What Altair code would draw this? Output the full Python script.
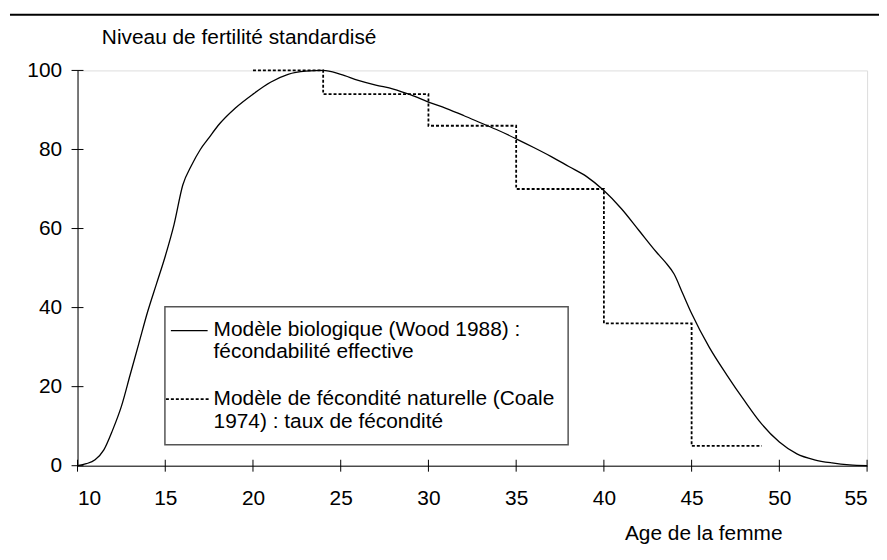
import altair as alt
import pandas as pd

# Wood 1988 biological model (effective fecundability)
wood_age = [10, 10.5, 11, 11.5, 12, 12.5, 13, 13.5, 14, 14.5, 15, 15.5, 16, 16.5, 17, 17.5, 18, 19, 20,
            21, 22, 23, 24, 25, 26, 27, 28, 29, 30, 31, 32, 33, 34, 35, 36, 37, 38, 39, 40,
            41, 42, 43, 43.5, 44, 44.5, 45, 46, 47, 48, 49, 50, 51, 52, 53, 54, 55]
wood_val = [0, 0.5, 1.5, 4, 9, 15, 23, 31, 39, 46, 53, 61, 71, 76, 80, 83, 86, 90.5, 94,
            97, 99, 99.8, 100, 99, 97.5, 96.3, 95.3, 93.8, 92, 90.4, 88.6, 86.7, 84.8, 82.7, 80.5, 78.2, 75.7, 73.2, 69.6,
            65, 59.5, 54, 51.5, 48.5, 43.5, 38.5, 30, 23, 16.5, 10.5, 6, 3, 1.5, 0.7, 0.2, 0]

# Coale 1974 natural fertility model (step function)
coale_age = [20, 24, 30, 35, 40, 45, 49]
coale_val = [100, 94, 86, 70, 36, 5, 5]

x_ticks = [10, 15, 20, 25, 30, 35, 40, 45, 50, 55]
y_ticks = [0, 20, 40, 60, 80, 100]

W, H = 795, 398
FONT = "Liberation Sans"
FS = 21

wood = pd.DataFrame({"age": wood_age, "val": wood_val})
coale = pd.DataFrame({"age": coale_age, "val": coale_val})
xt = pd.DataFrame({"age": x_ticks})
yt = pd.DataFrame({"val": y_ticks})

xscale = alt.Scale(domain=[10, 55], nice=False, zero=False)
yscale = alt.Scale(domain=[0, 100], nice=False)

xaxis = alt.Axis(values=x_ticks, ticks=False, tickSize=0, grid=False, domainColor="black",
                 domainWidth=1, labelFont=FONT, labelFontSize=FS, labelColor="black",
                 labelPadding=22, title="Age de la femme", titleFont=FONT, titleFontSize=FS,
                 titleFontWeight="normal", titleColor="black", titleX=630, titleY=74,
                 titleAlign="center", titleBaseline="alphabetic")
yaxis = alt.Axis(values=y_ticks, ticks=False, tickSize=0, grid=False, domainColor="black",
                 domainWidth=1, labelFont=FONT, labelFontSize=FS, labelColor="black",
                 labelPadding=16, title="Niveau de fertilité standardisé", titleFont=FONT,
                 titleFontSize=FS, titleFontWeight="normal", titleColor="black", titleAngle=0,
                 titleX=24, titleY=-27, titleAlign="left", titleBaseline="alphabetic")

curve = alt.Chart(wood).mark_line(color="black", strokeWidth=1.3, interpolate="monotone").encode(
    x=alt.X("age:Q", scale=xscale, axis=xaxis),
    y=alt.Y("val:Q", scale=yscale, axis=yaxis),
)

steps = alt.Chart(coale).mark_line(color="black", strokeWidth=1.8, strokeDash=[3, 2],
                                   interpolate="step-after").encode(
    x=alt.X("age:Q", scale=xscale),
    y=alt.Y("val:Q", scale=yscale),
)

xtick_marks = alt.Chart(xt).mark_rule(color="black", strokeWidth=1).encode(
    x=alt.X("age:Q", scale=xscale), y=alt.value(H - 6), y2=alt.value(H + 6))
ytick_marks = alt.Chart(yt).mark_rule(color="black", strokeWidth=1).encode(
    y=alt.Y("val:Q", scale=yscale), x=alt.value(-6), x2=alt.value(6))

one = pd.DataFrame({"a": [0]})
top_line = alt.Chart(one).mark_rule(color="black", strokeWidth=2).encode(
    x=alt.value(-68), x2=alt.value(809), y=alt.value(-56))

# Legend box (drawn by hand, as in the original)
legend_box = alt.Chart(one).mark_rect(
    fill="white", stroke="#555555", strokeWidth=1.5).encode(
    x=alt.value(88), x2=alt.value(494), y=alt.value(238), y2=alt.value(377))
leg_solid = alt.Chart(one).mark_rule(color="black", strokeWidth=1.3).encode(
    x=alt.value(94), x2=alt.value(131), y=alt.value(262))
leg_dot = alt.Chart(one).mark_rule(color="black", strokeWidth=1.8, strokeDash=[3, 2]).encode(
    x=alt.value(89), x2=alt.value(134), y=alt.value(331))

legend_lines = ["Modèle biologique (Wood 1988) :", "fécondabilité effective",
                "Modèle de fécondité naturelle (Coale", "1974) : taux de fécondité"]
legend_y = [261, 284, 331, 354]
leg_text = alt.layer(*[
    alt.Chart(pd.DataFrame({"t": [t]})).mark_text(
        font=FONT, fontSize=FS, color="black", align="left", baseline="middle").encode(
        text="t:N", x=alt.value(137), y=alt.value(yy))
    for t, yy in zip(legend_lines, legend_y)
])

chart = alt.layer(
    top_line, legend_box, leg_solid, leg_dot, leg_text,
    steps, curve, xtick_marks, ytick_marks,
).properties(
    width=W, height=H,
    autosize=alt.AutoSizeParams(type="none"),
    padding={"left": 70, "top": 61, "right": 12, "bottom": 80},
).configure_view(stroke=None).configure(background="white")

chart.save("out.html", embed_options={"renderer": "svg", "actions": False})
